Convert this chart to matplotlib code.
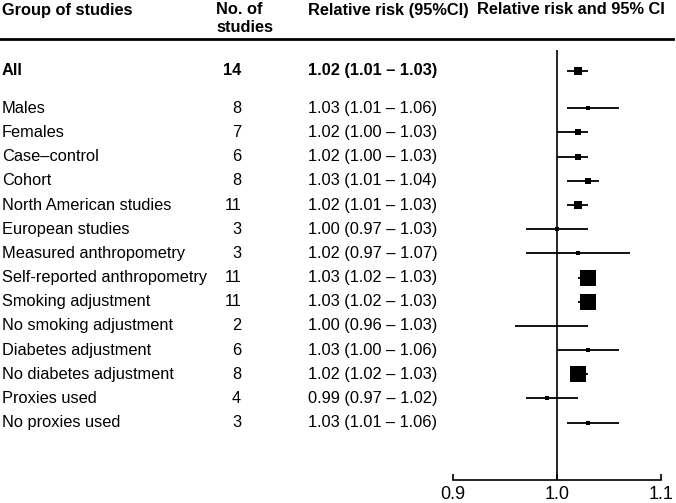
import matplotlib
matplotlib.use('Agg')
import matplotlib.pyplot as plt
import matplotlib.transforms as mtransforms

plt.rcParams['font.family'] = ['Liberation Sans', 'DejaVu Sans']

groups = ['All', 'Males', 'Females', 'Case\u2013control', 'Cohort', 'North American studies',
          'European studies', 'Measured anthropometry', 'Self-reported anthropometry',
          'Smoking adjustment', 'No smoking adjustment', 'Diabetes adjustment',
          'No diabetes adjustment', 'Proxies used', 'No proxies used']
n_studies = [14, 8, 7, 6, 8, 11, 3, 3, 11, 11, 2, 6, 8, 4, 3]
rr = [1.02, 1.03, 1.02, 1.02, 1.03, 1.02, 1.00, 1.02, 1.03, 1.03, 1.00, 1.03, 1.02, 0.99, 1.03]
lo = [1.01, 1.01, 1.00, 1.00, 1.01, 1.01, 0.97, 0.97, 1.02, 1.02, 0.96, 1.00, 1.02, 0.97, 1.01]
hi = [1.03, 1.06, 1.03, 1.03, 1.04, 1.03, 1.03, 1.07, 1.03, 1.03, 1.03, 1.06, 1.03, 1.02, 1.06]
# box size (pixels) ~ study weight
box_px = [8.7, 4, 6.7, 6.7, 6, 8.7, 4.3, 4, 16.7, 16.7, 2.5, 4, 15.7, 4.7, 4]

W, H = 676, 503
fig = plt.figure(figsize=(W / 100, H / 100), dpi=100)

# forest axes: 0.9 -> x=453, 1.1 -> x=661; top y=50, bottom y=480
ax = fig.add_axes([453 / W, 1 - 480 / H, (661 - 453) / W, (480 - 50) / H])
row0, step = 108.3, 24.18
ax.set_xlim(0.9, 1.1)
ax.set_ylim((480 - row0) / step, (50 - row0) / step)
ypos = [-1.55] + list(range(len(groups) - 1))

ax.axvline(1.0, color='black', lw=1.2, zorder=1)
for y, r, l, h, b in zip(ypos, rr, lo, hi, box_px):
    ax.plot([l, h], [y, y], color='black', lw=1.3, solid_capstyle='butt', zorder=2)
    ax.plot(r, y, marker='s', color='black', markersize=b * 0.72, markeredgewidth=0, zorder=3)

for s in ['top', 'left', 'right']:
    ax.spines[s].set_visible(False)
ax.spines['bottom'].set_linewidth(1.2)
ax.set_yticks([])
ax.set_xticks([0.9, 1.0, 1.1])
ax.set_xticklabels(['0.9', '1.0', '1.1'])
ax.tick_params(axis='x', direction='in', length=4, width=1.2, pad=4, labelsize=13)
ax.patch.set_visible(False)

# table columns
tr = mtransforms.blended_transform_factory(fig.transFigure, ax.transData)
fs = 11.8
for i, (y, g, n, r, l, h) in enumerate(zip(ypos, groups, n_studies, rr, lo, hi)):
    wt = 'bold' if i == 0 else 'normal'
    ax.text(2 / W, y, g, transform=tr, ha='left', va='center', fontsize=fs, fontweight=wt)
    ax.text(241 / W, y, str(n), transform=tr, ha='right', va='center', fontsize=fs, fontweight=wt)
    ax.text(308 / W, y, f'{r:.2f} ({l:.2f} \u2013 {h:.2f})', transform=tr, ha='left', va='center',
            fontsize=fs, fontweight=wt)

# headers
fig.text(2 / W, 1 - 10 / H, 'Group of studies', ha='left', va='center', fontsize=fs, fontweight='bold')
fig.text(216 / W, 1 - 10 / H, 'No. of', ha='left', va='center', fontsize=fs, fontweight='bold')
fig.text(216 / W, 1 - 28 / H, 'studies', ha='left', va='center', fontsize=fs, fontweight='bold')
fig.text(308 / W, 1 - 10 / H, 'Relative risk (95%CI)', ha='left', va='center', fontsize=fs, fontweight='bold')
fig.text(477 / W, 1 - 10 / H, 'Relative risk and 95% CI', ha='left', va='center', fontsize=fs, fontweight='bold')
fig.add_artist(plt.Line2D([0, 673 / W], [1 - 39 / H, 1 - 39 / H], color='black', lw=2,
                          transform=fig.transFigure))

fig.savefig('out.png', dpi=100)
